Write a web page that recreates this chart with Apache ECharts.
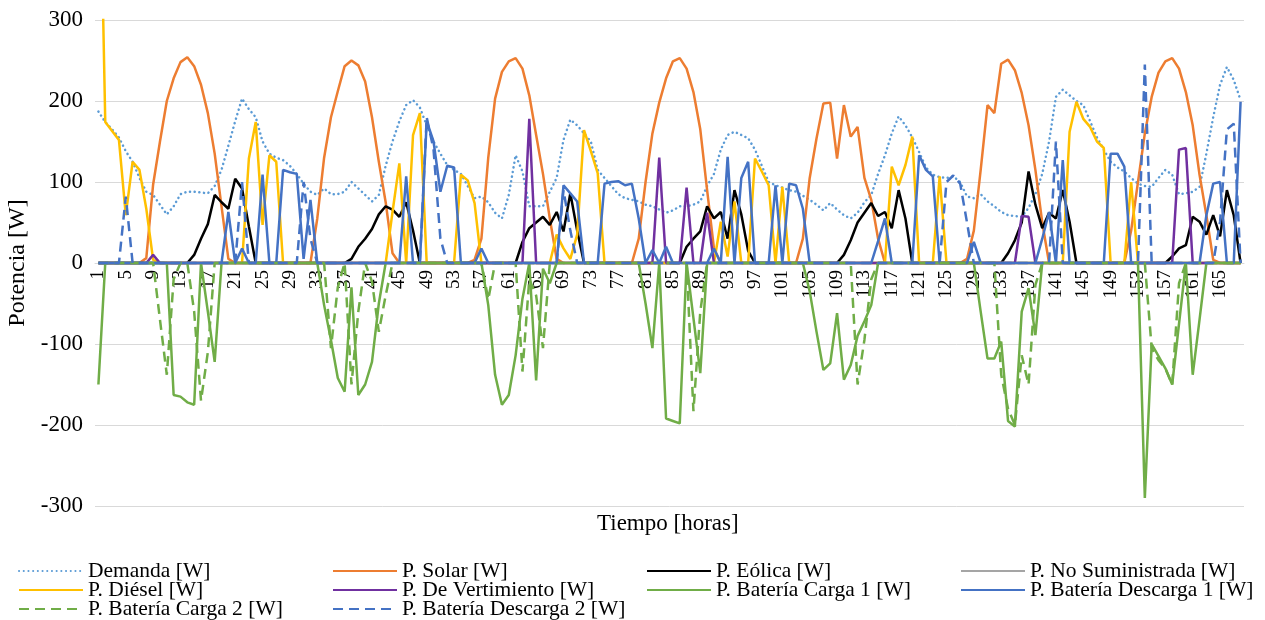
<!DOCTYPE html>
<html>
<head>
<meta charset="utf-8">
<title>Potencia</title>
<script src="https://cdn.jsdelivr.net/npm/echarts@6/dist/echarts.min.js"></script>
<style>
html, body { margin: 0; padding: 0; background: #fff; }
#grafico { width: 1265px; height: 620px; }
</style>
</head>
<body>
<div id="grafico"></div>
<script>
// horas 1..168
var horas = [];
for (var i = 1; i <= 168; i++) horas.push(String(i));

var demanda = [
  187,174,165,155,138,125,105,88,84,72,60,70,
  85,88,88,87,86,95,115,145,175,203,190,180,
  150,135,130,127,120,110,98,88,84,92,85,85,
  88,100,92,84,76,84,120,150,175,195,201,192,
  170,150,135,121,115,110,95,80,82,75,62,55,
  84,133,113,70,70,70,88,105,152,177,170,160,
  150,115,105,95,85,80,78,76,72,70,66,62,
  65,70,70,72,76,95,110,140,158,162,158,154,
  140,120,100,96,93,90,88,83,78,72,65,74,
  66,59,55,62,75,84,110,133,160,181,170,155,
  137,118,109,106,105,107,100,82,80,85,76,70,
  63,59,58,57,68,85,110,150,205,214,207,200,
  195,175,155,140,125,118,113,105,98,95,94,105,
  115,109,85,86,88,94,135,180,220,242,226,201
];
var solar = [
  0,0,0,0,0,0,0,6,97,150,200,228,
  248,254,243,220,185,135,70,5,0,0,0,0,
  0,0,0,0,0,0,0,0,55,130,180,212,
  243,250,244,224,180,125,75,12,0,0,0,0,
  0,0,0,0,0,0,0,4,30,130,203,236,
  249,253,240,207,158,110,55,5,0,0,0,0,
  0,0,0,0,0,0,0,30,100,160,198,228,
  249,253,240,211,165,90,18,0,0,0,0,0,
  0,0,0,0,0,0,0,30,105,154,197,198,
  129,195,156,168,105,78,30,0,0,0,0,0,
  0,0,0,0,0,0,0,5,40,115,195,185,
  246,251,238,210,170,115,50,0,0,0,0,0,
  0,0,0,0,0,0,0,40,100,160,205,235,
  249,253,240,211,170,109,59,4,0,0,0,0
];
var eolica = [
  0,0,0,0,0,0,0,0,0,0,0,0,
  0,0,10,30,48,84,75,67,104,92,45,0,
  0,0,0,0,0,0,0,0,0,0,0,0,
  0,5,20,30,42,60,70,66,57,75,40,0,
  0,0,0,0,0,0,0,0,0,0,0,0,
  0,0,26,43,50,57,47,63,39,86,40,0,
  0,0,0,0,0,0,0,0,0,0,0,0,
  0,0,20,30,39,70,55,63,30,90,60,15,
  0,0,0,0,0,0,0,0,0,0,0,0,
  0,10,28,50,62,74,58,63,43,90,55,0,
  0,0,0,0,0,0,0,0,0,0,0,0,
  0,12,28,50,113,72,43,62,55,90,51,0,
  0,0,0,0,0,0,0,0,0,0,0,0,
  0,8,18,22,57,51,35,59,33,90,59,0
];
var noSuministrada = [
  0,0,0,0,0,0,0,0,0,0,0,0,
  0,0,0,0,0,0,0,0,0,0,0,0,
  0,0,0,0,0,0,0,0,0,0,0,0,
  0,0,0,0,0,0,0,0,0,0,0,0,
  0,0,0,0,0,0,0,0,0,0,0,0,
  0,0,0,0,0,0,0,0,0,0,0,0,
  0,0,0,0,0,0,0,0,0,0,0,0,
  0,0,0,0,0,0,0,0,0,0,0,0,
  0,0,0,0,0,0,0,0,0,0,0,0,
  0,0,0,0,0,0,0,0,0,0,0,0,
  0,0,0,0,0,0,0,0,0,0,0,0,
  0,0,0,0,0,0,0,0,0,0,0,0,
  0,0,0,0,0,0,0,0,0,0,0,0,
  0,0,0,0,0,0,0,0,0,0,0,0
];
var diesel = [
  600,174,163,152,59,125,115,67,4,0,0,0,
  0,0,0,0,0,0,0,0,0,0,129,174,
  47,133,125,0,0,0,0,0,0,0,0,0,
  0,0,0,0,0,0,0,63,123,0,158,185,
  0,0,0,0,0,109,102,74,0,0,0,0,
  0,0,0,0,0,0,0,35,18,5,35,164,
  138,111,0,0,0,0,0,0,0,0,0,0,
  0,0,0,0,0,0,0,51,8,76,0,0,
  129,113,96,0,94,0,0,0,0,0,0,0,
  0,0,0,0,0,0,0,0,119,96,121,156,
  0,0,0,107,0,0,0,0,0,0,0,0,
  0,0,0,0,0,0,0,0,0,0,162,199,
  178,168,150,142,0,0,0,100,0,0,0,0,
  0,0,0,0,0,0,0,0,0,0,0,0
];
var vertimiento = [
  0,0,0,0,0,0,0,0,10,0,0,0,
  0,0,0,0,0,0,0,0,0,0,0,0,
  0,0,0,0,0,0,0,0,0,0,0,0,
  0,0,0,0,0,0,0,0,0,0,0,0,
  0,0,0,0,0,0,0,0,0,0,0,0,
  0,0,0,178,0,0,0,0,0,0,0,0,
  0,0,0,0,0,0,0,0,0,0,130,0,
  0,0,93,0,0,62,0,0,0,0,0,0,
  0,0,0,0,0,0,0,0,0,0,0,0,
  0,0,0,0,0,0,0,0,0,0,0,0,
  0,0,0,0,0,0,0,0,0,0,0,0,
  0,0,0,58,57,0,0,0,0,0,0,0,
  0,0,0,0,0,0,0,0,0,0,0,0,
  0,0,140,142,0,0,0,0,0,0,0,0
];
var carga1 = [
  -150,0,0,0,0,0,0,0,0,0,0,-163,
  -165,-172,-175,0,-60,-122,0,0,0,0,0,0,
  0,0,0,0,0,0,0,0,0,-52,-95,-142,
  -159,-30,-163,-150,-122,-50,0,0,0,0,0,0,
  0,0,0,0,0,0,0,0,0,-52,-138,-175,
  -163,-114,-44,0,-145,-7,-25,0,0,0,0,0,
  0,0,0,0,0,0,0,0,-50,-105,0,-192,
  -195,-198,0,-68,-136,0,0,0,0,0,0,0,
  0,0,0,0,0,0,0,0,-35,-85,-132,-124,
  -62,-144,-126,-90,-72,-52,0,0,0,0,0,0,
  0,0,0,0,0,0,0,0,0,-60,-118,-118,
  -97,-195,-202,-60,-31,-89,0,0,0,0,0,0,
  0,0,0,0,0,0,0,0,0,-290,-100,-115,
  -130,-150,-75,0,-138,-70,0,0,0,0,0,0
];
var descarga1 = [
  0,0,0,0,0,0,0,0,0,0,0,0,
  0,0,0,0,0,0,0,63,0,18,0,0,
  109,0,0,115,112,110,5,78,0,0,0,0,
  0,0,0,0,0,0,0,0,0,107,0,0,
  175,150,88,120,118,0,0,0,18,0,0,0,
  0,0,0,0,0,0,0,0,96,86,76,0,
  0,0,98,100,101,96,98,55,0,16,0,20,
  0,0,0,0,0,0,18,0,131,0,105,125,
  0,0,0,96,0,98,96,67,0,0,0,0,
  0,0,0,0,0,0,27,55,0,0,0,0,
  133,115,107,0,0,0,0,0,26,0,0,0,
  0,0,0,0,0,0,30,63,0,127,0,0,
  0,0,0,0,135,135,119,0,0,0,0,0,
  0,0,0,0,0,0,59,98,100,0,0,199
];
var carga2 = [
  0,0,0,0,0,0,0,0,0,-70,-138,-20,
  0,0,-60,-170,-110,0,0,0,0,0,0,0,
  0,0,0,0,0,0,0,0,0,0,-105,-30,
  0,-150,-60,0,-23,-85,-40,0,0,0,0,0,
  0,0,0,0,0,0,0,0,0,-45,0,0,
  0,0,-134,-20,-40,-105,0,0,0,0,0,0,
  0,0,0,0,0,0,0,0,0,0,0,0,
  0,0,0,-183,-60,0,0,0,0,0,0,0,
  0,0,0,0,0,0,0,0,0,0,0,0,
  0,0,0,-150,-95,-20,0,0,0,0,0,0,
  0,0,0,0,0,0,0,0,0,0,0,0,
  -138,-180,-200,-114,-150,-27,0,0,0,0,0,0,
  0,0,0,0,0,0,0,0,0,0,-105,-120,
  -130,-150,-25,0,0,0,0,0,0,0,0,0
];
var descarga2 = [
  0,0,0,0,82,0,0,0,0,0,0,0,
  0,0,0,0,0,0,0,0,0,100,0,0,
  0,0,0,0,0,0,100,30,0,0,0,0,
  0,0,0,0,0,0,0,0,0,0,0,0,
  180,140,30,0,0,0,0,0,0,0,0,0,
  0,0,0,0,0,0,0,0,90,40,0,0,
  0,0,0,0,0,0,0,0,0,0,0,0,
  0,0,0,0,0,0,0,0,0,0,0,0,
  0,0,0,0,0,0,0,0,0,0,0,0,
  0,0,0,0,0,0,0,0,0,0,0,0,
  0,0,0,0,100,108,98,50,0,0,0,0,
  0,0,0,0,0,0,0,0,150,0,0,0,
  0,0,0,0,0,0,0,0,0,245,0,0,
  0,0,0,0,0,0,0,0,51,165,172,0
];

var fuente = "'Liberation Serif', 'Times New Roman', serif";
var punteado = [0.1, 4.6];
var guiones = [10, 6];

var series = [
  { nombre: 'Demanda [W]', datos: demanda, color: '#5B9BD5', tipo: punteado, cap: 'round' },
  { nombre: 'P. Solar [W]', datos: solar, color: '#ED7D31', tipo: 'solid' },
  { nombre: 'P. Eólica [W]', datos: eolica, color: '#000000', tipo: 'solid' },
  { nombre: 'P. No Suministrada [W]', datos: noSuministrada, color: '#A5A5A5', tipo: 'solid' },
  { nombre: 'P. Diésel [W]', datos: diesel, color: '#FFC000', tipo: 'solid' },
  { nombre: 'P. De Vertimiento [W]', datos: vertimiento, color: '#7030A0', tipo: 'solid' },
  { nombre: 'P. Batería Carga 1 [W]', datos: carga1, color: '#70AD47', tipo: 'solid' },
  { nombre: 'P. Batería Descarga 1 [W]', datos: descarga1, color: '#4472C4', tipo: 'solid' },
  { nombre: 'P. Batería Carga 2 [W]', datos: carga2, color: '#70AD47', tipo: guiones },
  { nombre: 'P. Batería Descarga 2 [W]', datos: descarga2, color: '#4472C4', tipo: guiones }
];

// posiciones de la leyenda (4 columnas)
var colX = [18, 332, 646, 960];
var filaY = [560, 579, 598];

var chart = echarts.init(document.getElementById('grafico'));
chart.setOption({
  animation: false,
  backgroundColor: '#fff',
  grid: { left: 95, right: 21, top: 20, bottom: 114, outerBoundsMode: 'none' },
  title: {
    text: 'Tiempo [horas]',
    left: 597,
    top: 512,
    padding: 0,
    textStyle: { fontFamily: fuente, fontSize: 23, fontWeight: 'normal', color: '#000' }
  },
  legend: series.map(function (s, i) {
    return {
      data: [s.nombre],
      left: colX[i % 4],
      top: filaY[Math.floor(i / 4)],
      padding: 0,
      itemWidth: 64,
      itemHeight: 10,
      itemStyle: { opacity: 0 },
      selectedMode: false,
      textStyle: { fontFamily: fuente, fontSize: 21.5, color: '#000' }
    };
  }),
  xAxis: {
    type: 'category',
    data: horas,
    boundaryGap: true,
    offset: -243,
    axisLine: { onZero: false, lineStyle: { color: '#D9D9D9' } },
    axisTick: { show: false },
    axisLabel: {
      interval: 3,
      rotate: 90,
      margin: 7,
      fontFamily: fuente,
      fontSize: 19,
      color: '#000'
    },
    splitLine: { show: false }
  },
  yAxis: {
    type: 'value',
    min: -300,
    max: 300,
    interval: 100,
    name: 'Potencia [W]',
    nameLocation: 'middle',
    nameGap: 59,
    nameTextStyle: { fontFamily: fuente, fontSize: 24, color: '#000' },
    axisLine: { show: false },
    axisTick: { show: false },
    axisLabel: { fontFamily: fuente, fontSize: 23, color: '#000', margin: 12 },
    splitLine: { lineStyle: { color: '#D9D9D9', width: 1 } }
  },
  series: series.map(function (s) {
    return {
      name: s.nombre,
      type: 'line',
      data: s.datos,
      symbol: 'none',
      clip: true,
      lineStyle: { color: s.color, width: 2.5, type: s.tipo, cap: s.cap || 'butt' },
      itemStyle: { color: s.color },
      emphasis: { disabled: true }
    };
  })
});
</script>
</body>
</html>
